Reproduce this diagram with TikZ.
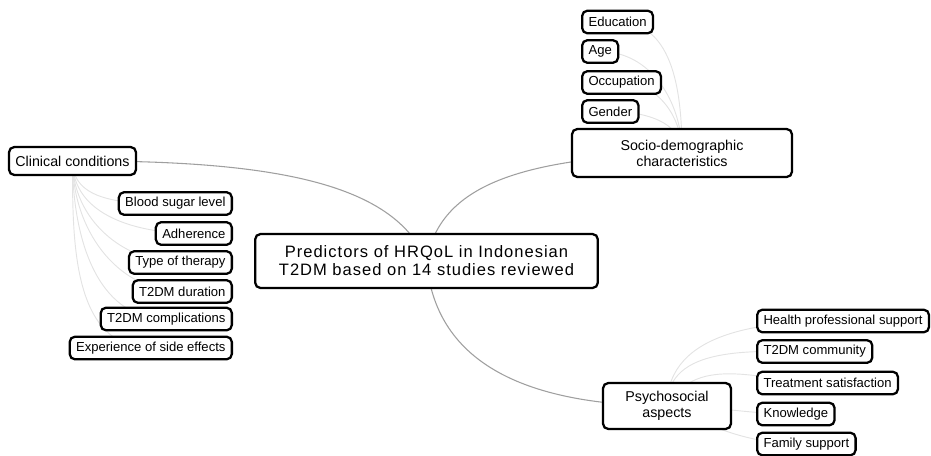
\documentclass[tikz,border=0pt]{standalone}
\usepackage{fontspec}
\setmainfont{Liberation Sans}
\newfontfamily\spaced[LetterSpace=6]{Liberation Sans}
\usetikzlibrary{backgrounds}

\tikzset{
    box/.style={draw=black, line width=1.7pt, rounded corners=4pt, fill=white, inner xsep=4.8pt, inner ysep=0pt},
    leaf/.style={box, minimum height=17pt, font=\fontsize{9.8pt}{11pt}\selectfont},
    branch/.style={box, align=center, font=\fontsize{10.7pt}{12pt}\selectfont},
    root/.style={box, align=center, minimum width=257pt, minimum height=40.5pt, font=\spaced\fontsize{12.4pt}{13.5pt}\selectfont},
    limb/.style={draw=gray!75, line width=0.8pt},
    twig/.style={draw=gray!22, line width=0.7pt},
}

\begin{document}
\begin{tikzpicture}[x=0.75pt, y=-0.75pt]
    \useasboundingbox (0,0) rectangle (931,455);

    \node[root] (hrqol) at (426.5,261) {Predictors of HRQoL in Indonesian\\T2DM based on 14 studies reviewed};

    \node[branch, minimum height=21pt] (clinical) at (72.5,161) {Clinical conditions};
    \node[branch, minimum width=165pt, minimum height=36pt] (socio) at (682,153) {Socio-demographic\\characteristics};
    \node[branch, minimum width=96pt, minimum height=34.5pt] (psycho) at (667,406) {Psychosocial\\aspects};

    % clinical conditions
    \foreach \name/\txt/\y in {sugar/Blood sugar level/203.5, adher/Adherence/233.5, therapy/Type of therapy/262.5,
        dur/T2DM duration/291.5, compl/T2DM complications/319, side/Experience of side effects/348}
      \node[leaf, anchor=east] (\name) at (233,\y) {\txt};

    % socio-demographic
    \foreach \name/\txt/\y in {edu/Education/22, age/Age/51.5, job/Occupation/82.5, gender/Gender/111.5}
      \node[leaf, anchor=west] (\name) at (581,\y) {\txt};

    % psychosocial
    \foreach \name/\txt/\y in {health/Health professional support/321, commu/T2DM community/351.5,
        satis/Treatment satisfaction/383, know/Knowledge/414, family/Family support/444}
      \node[leaf, anchor=west] (\name) at (756,\y) {\txt};

    \begin{scope}[on background layer]
      \draw[limb] (hrqol.center) .. controls (395,185) and (280,160) .. (clinical.center);
      \draw[limb] (hrqol.center) .. controls (440,185) and (520,158) .. (socio.center);
      \draw[limb] (hrqol.center) .. controls (435,360) and (520,405) .. (psycho.center);

      \foreach \name in {sugar,adher,therapy,dur,compl,side}
        \draw[twig] (clinical.center) to[out=-90, in=180] (\name.center);
      \foreach \name in {edu,age,job,gender}
        \draw[twig] (socio.center) to[out=90, in=0] (\name.center);
      \foreach \name/\a in {health/90, commu/90, satis/60, know/0, family/-25}
        \draw[twig] (psycho.center) to[out=\a, in=180] (\name.center);
    \end{scope}
\end{tikzpicture}
\end{document}
